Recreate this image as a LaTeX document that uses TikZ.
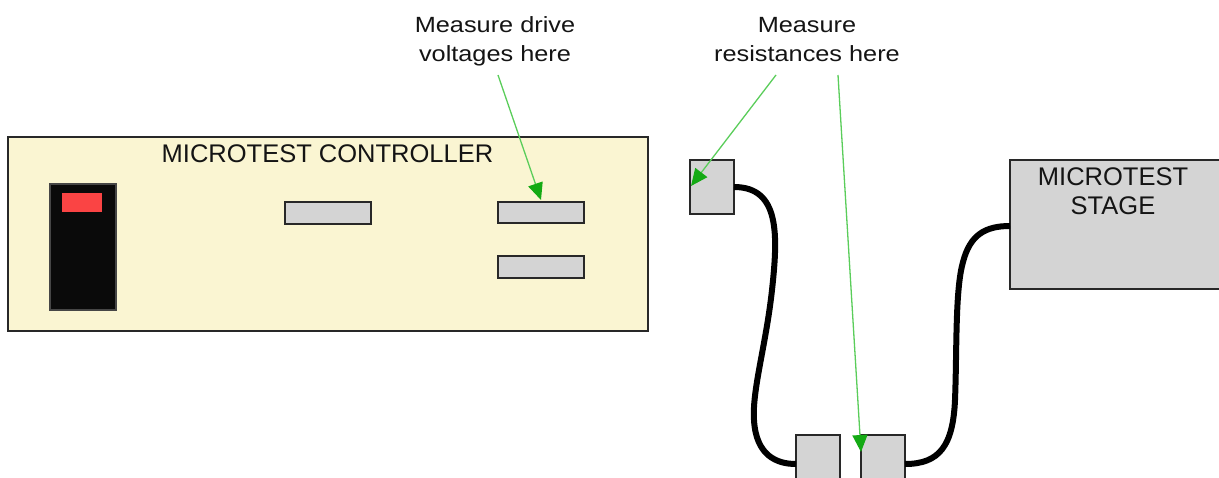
\documentclass[tikz,border=0pt]{standalone}
\usepackage{fontspec}
\setmainfont{Liberation Sans}
\newfontfamily\calloutfont[FakeStretch=1.15]{Liberation Sans}
\usetikzlibrary{arrows.meta,calc}

\definecolor{panelcream}{RGB}{250,245,210}
\definecolor{partgray}{RGB}{212,212,212}
\definecolor{edgegray}{RGB}{40,40,40}
\definecolor{inkgray}{RGB}{20,20,20}
\definecolor{switchred}{RGB}{250,68,68}
\definecolor{switchblack}{RGB}{10,10,10}
\definecolor{switchedge}{RGB}{70,70,70}
\definecolor{pointergreen}{RGB}{90,205,90}
\definecolor{tipgreen}{RGB}{20,170,20}

\tikzset{
  box/.style={draw=edgegray, line width=1.8pt, inner sep=0pt, outer sep=0pt},
  panel/.style={box, fill=panelcream},
  part/.style={box, fill=partgray},
  cable/.style={line width=6pt, black},
  pointer/.style={draw=pointergreen, line width=1.3pt,
    -{Triangle[length=17pt,width=15pt,color=tipgreen]}},
  title/.style={font=\fontsize{25.5}{29}\selectfont, text=inkgray,
    align=center, inner sep=0pt},
  note/.style={font=\calloutfont\fontsize{22}{29}\selectfont, text=inkgray,
    align=center, inner sep=0pt},
}

\begin{document}
\begin{tikzpicture}[x=1pt, y=-1pt]
\useasboundingbox (0,0) rectangle (1219,477);
\clip (0,0) rectangle (1219,477);

% controller front panel
\node[panel, minimum width=640pt, minimum height=194pt] (ctrl) at (328,234) {};
\node[title] (ctrltitle) at (327.5,154) {MICROTEST CONTROLLER};

% power switch
\node[box, draw=switchedge, line width=1.4pt, fill=switchblack,
      minimum width=66pt, minimum height=126pt] (switch) at (83,247) {};
\node[inner sep=0pt, fill=switchred, minimum width=40pt, minimum height=19pt]
      (lamp) at (82,202.5) {};

% connectors on the panel
\node[part, minimum width=86pt, minimum height=22pt] (slotA) at (328,213) {};
\node[part, minimum width=86pt, minimum height=21pt] (slotB) at (541,212.5) {};
\node[part, minimum width=86pt, minimum height=22pt] (slotC) at (541,267) {};

% cable plugs and stage
\node[part, minimum width=44pt, minimum height=54pt] (plug) at (712,187) {};
\node[part, minimum width=44pt, minimum height=66pt] (jackL) at (818,468) {};
\node[part, minimum width=44pt, minimum height=66pt] (jackR) at (883,468) {};
\node[part, minimum width=240pt, minimum height=129pt] (stage) at (1130,224.5) {};
\node[title] (stagetitle) at (1113,191.5) {MICROTEST\\STAGE};

% cables
\draw[cable] (plug.east)
  .. controls (780,187) and (778,235) .. (772,290)
  .. controls (766,345) and (752,390) .. (754,420)
  .. controls (756,455) and (776,464) .. ($(jackL.north west)+(0,29)$);
\draw[cable] ($(jackR.north east)+(0,29)$)
  .. controls (940,464) and (953,445) .. (955,400)
  .. controls (957,350) and (955,290) .. (963,262)
  .. controls (970,235) and (985,226) .. ($(stage.north west)+(0,66)$);

% callouts
\node[note] (voltnote) at (495,41) {Measure drive\\voltages here};
\node[note] (resnote) at (807,40) {Measure\\resistances here};
\coordinate (voltfoot) at (498,75);
\coordinate (resfootA) at (776,75);
\coordinate (resfootB) at (838,75);

\draw[pointer] (voltfoot) -- ($(slotB.north)+(0,-2)$);
\draw[pointer] (resfootA) -- ($(plug.west)+(1,-1)$);
\draw[pointer] (resfootB) -- ($(jackR.north west)+(0,17)$);
\end{tikzpicture}
\end{document}
